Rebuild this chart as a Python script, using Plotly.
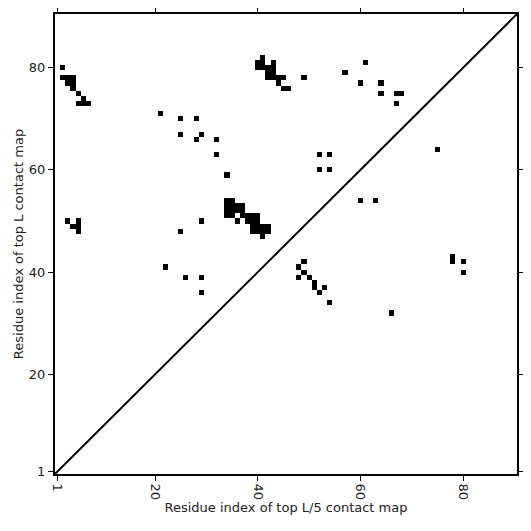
import plotly.graph_objects as go

N = 90
# Residue contact pairs (x index, y index)
contact_x = [
    2, 2, 3, 4, 3, 4, 4, 5, 6, 5, 6, 7,
    41, 40, 41, 43, 40, 41, 42, 43, 42, 43, 42, 43, 44, 45, 44, 45, 46, 49,
    57, 61, 60, 64, 64, 67, 68, 67, 75,
    52, 54, 52, 54, 60, 63,
    21, 25, 28, 25, 29, 28, 32, 32, 34,
    34, 35, 34, 35, 36, 37, 34, 35, 36, 37, 34, 35, 37, 38, 39, 40,
    36, 38, 39, 40, 39, 40, 41, 42, 39, 40, 41, 42, 41,
    3, 5, 4, 5, 5,
    29, 25, 22, 26, 29, 29,
    49, 48, 49, 48, 50, 51, 51, 53, 52, 54,
    66, 78, 78, 80, 80,
]
contact_y = [
    80, 78, 78, 78, 77, 77, 76, 75, 74, 73, 73, 73,
    82, 81, 81, 81, 80, 80, 80, 80, 79, 79, 78, 78, 78, 78, 77, 76, 76, 78,
    79, 81, 77, 77, 75, 75, 75, 73, 64,
    63, 63, 60, 60, 54, 54,
    71, 70, 70, 67, 67, 66, 66, 63, 59,
    54, 54, 53, 53, 53, 53, 52, 52, 52, 52, 51, 51, 51, 51, 51, 51,
    50, 50, 50, 50, 49, 49, 49, 49, 48, 48, 48, 48, 47,
    50, 50, 49, 49, 48,
    50, 48, 41, 39, 39, 36,
    42, 41, 40, 39, 39, 38, 37, 37, 36, 34,
    32, 43, 42, 42, 40,
]
tick_vals = [1, 20, 40, 60, 80]

z = [[None] * N for _ in range(N)]
for cx, cy in zip(contact_x, contact_y):
    z[cy - 1][cx - 1] = 1

fig = go.Figure()
fig.add_trace(go.Heatmap(
    x=list(range(1, N + 1)), y=list(range(1, N + 1)), z=z,
    colorscale=[[0, "black"], [1, "black"]], showscale=False,
    hoverinfo="skip",
))
fig.add_trace(go.Scatter(
    x=[0.5, N + 0.5], y=[0.5, N + 0.5], mode="lines",
    line=dict(color="black", width=2), showlegend=False, hoverinfo="skip",
))

axis_common = dict(
    range=[0.5, N + 0.5], showgrid=False, zeroline=False, automargin=False,
    showline=True, linecolor="black", linewidth=2, mirror="ticks",
    ticks="outside", ticklen=5, tickwidth=1.2, tickcolor="black",
    tickvals=tick_vals, tickfont=dict(size=13, color="#222"),
    title_font=dict(size=13, color="#222"),
)
fig.update_xaxes(**axis_common, tickangle=90,
                 title_text="Residue index of top L/5 contact map", title_standoff=3)
fig.update_yaxes(**axis_common,
                 title_text="Residue index of top L contact map", title_standoff=2)
fig.update_layout(
    width=515, height=515,
    margin=dict(l=47, r=6, t=6, b=49, autoexpand=False),
    plot_bgcolor="white", paper_bgcolor="white",
    font=dict(family="DejaVu Sans"),
    showlegend=False,
)
fig.write_html("out.html")
